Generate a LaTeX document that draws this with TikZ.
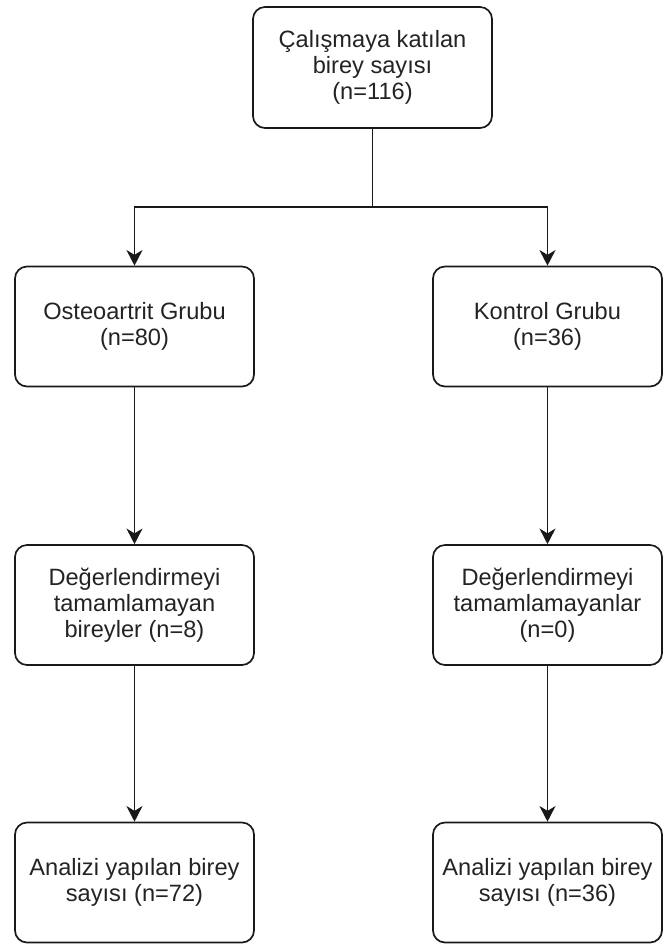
\documentclass[tikz,border=0pt]{standalone}
\usepackage{fontspec}
\setmainfont{Liberation Sans}
\usetikzlibrary{arrows.meta,calc,positioning}
\definecolor{textgray}{RGB}{35,35,35}
\definecolor{linegray}{RGB}{25,25,25}

\begin{document}
\begin{tikzpicture}[
  font=\fontsize{16.8pt}{18.6pt}\selectfont,
  arrow/.style={-{Stealth[length=3.9mm,width=4.0mm,inset=1.2mm]}, line width=1.2pt, draw=linegray},
  box/.style={draw=linegray, line width=1.2pt, rounded corners=0.3cm, minimum width=5.975cm, minimum height=3.0cm, align=center, text=textgray, inner sep=2pt},
  rbox/.style={box, minimum width=5.725cm}
]
\useasboundingbox (0,0) rectangle (16.575,-23.6);

% Top
\node[box, minimum height=3.025cm] (top) at (9.3125,-1.6875) {Çalışmaya katılan\\birey sayısı\\(n=116)};
\coordinate (split) at (9.3125,-5.175);

% Groups
\node[box] (g1) at (3.3625,-8.1625) {Osteoartrit Grubu\\(n=80)};
\node[rbox] (g2) at (13.6875,-8.1625) {Kontrol Grubu\\(n=36)};

% Not completed
\node[box] (d1) at (3.3625,-15.125) {Değerlendirmeyi\\tamamlamayan\\bireyler (n=8)};
\node[rbox] (d2) at (13.6875,-15.125) {Değerlendirmeyi\\tamamlamayanlar\\(n=0)};

% Analysed
\node[box] (a1) at (3.3625,-22.0625) {Analizi yapılan birey\\sayısı (n=72)};
\node[rbox] (a2) at (13.6875,-22.0625) {Analizi yapılan birey\\sayısı (n=36)};

\draw[arrow] (top.south) -- (split) -| (g1.north);
\draw[arrow] (split) -| (g2.north);
\draw[arrow] (g1) -- (d1);
\draw[arrow] (g2) -- (d2);
\draw[arrow] (d1) -- (a1);
\draw[arrow] (d2) -- (a2);

\end{tikzpicture}
\end{document}
